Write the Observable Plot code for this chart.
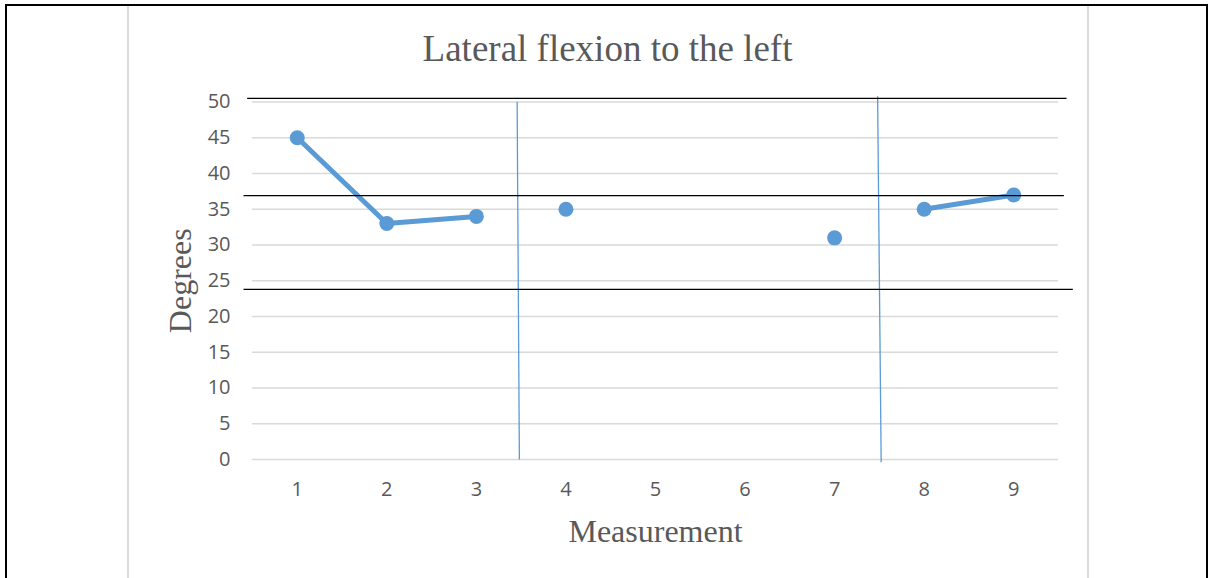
<!DOCTYPE html>
<html>
<head>
<meta charset="utf-8">
<script src="https://cdn.jsdelivr.net/npm/d3@7"></script>
<script src="https://cdn.jsdelivr.net/npm/@observablehq/plot@0.6"></script>
<style>
  html, body { margin: 0; padding: 0; background: #fff; }
  #page { position: relative; width: 1209px; height: 578px; overflow: hidden; }
  .edge { position: absolute; background: #000; }
  .sheet { position: absolute; background: #d9d9d9; }
  #chart { position: absolute; left: 0; top: 0; }
</style>
</head>
<body>
<div id="page">
  <div class="edge" style="left:5px; top:4px; width:1203px; height:2px;"></div>
  <div class="edge" style="left:5px; top:4px; width:2px; height:574px;"></div>
  <div class="edge" style="left:1206px; top:4px; width:2px; height:574px;"></div>
  <div class="sheet" style="left:127px; top:6px; width:1.5px; height:572px;"></div>
  <div class="sheet" style="left:1087px; top:6px; width:1.5px; height:572px;"></div>
  <div id="chart"></div>
</div>
<script>
// Measurement number, recorded angle (degrees; null = no reading) and phase
const measurements = [1, 2, 3, 4, 5, 6, 7, 8, 9];
const degrees = [45, 33, 34, 35, null, null, 31, 35, 37];
const phase = ["A", "A", "A", "B", "B", "B", "B", "C", "C"];
const yTicks = [0, 5, 10, 15, 20, 25, 30, 35, 40, 45, 50];

// Reference bands (horizontal) and phase separators (vertical)
const bandLevels = [50.5, 36.9, 23.8];
const bandStart = [0.44, 0.40, 0.40];
const bandEnd = [9.59, 9.56, 9.66];
const dividerTopX = [3.455, 7.48];
const dividerBottomX = [3.48, 7.52];
const dividerTopY = [50.0, 50.8];
const dividerBottomY = [0, -0.4];

const titleText = "Lateral flexion to the left";
const xTitle = "Measurement";
const yTitle = "Degrees";

const rows = measurements.map((m, i) => ({m, v: degrees[i] ?? NaN, p: phase[i]}));
const points = rows.filter(d => !Number.isNaN(d.v));
const bands = bandLevels.map((y, i) => ({y, x1: bandStart[i], x2: bandEnd[i]}));
const dividers = dividerTopX.map((x, i) => ({
  x1: x, x2: dividerBottomX[i], y1: dividerTopY[i], y2: dividerBottomY[i]
}));

const blue = "#5b9bd5";
const textGray = "#595959";

const chart = Plot.plot({
  width: 1209,
  height: 578,
  marginLeft: 252,
  marginRight: 151,
  marginTop: 101.5,
  marginBottom: 119,
  style: {background: "transparent", overflow: "visible"},
  x: {domain: [0.5, 9.5], label: null},
  y: {domain: [0, 50], label: null},
  marks: [
    Plot.ruleY(yTicks, {stroke: "#d9d9d9", strokeWidth: 1.5, strokeOpacity: 1}),
    Plot.axisY(yTicks, {
      tickSize: 0, tickPadding: 22, label: null,
      fontSize: 20, fill: textGray, fontFamily: "Open Sans, sans-serif"
    }),
    Plot.axisX(measurements, {
      tickSize: 0, tickPadding: 22, label: null,
      fontSize: 20, fill: textGray, fontFamily: "Open Sans, sans-serif"
    }),
    Plot.line(rows, {x: "m", y: "v", z: "p", stroke: blue, strokeWidth: 5, strokeLinecap: "round"}),
    Plot.dot(points, {x: "m", y: "v", r: 7.5, fill: blue, stroke: "none"}),
    Plot.link(dividers, {x1: "x1", x2: "x2", y1: "y1", y2: "y2", stroke: blue, strokeWidth: 1.3}),
    Plot.link(bands, {x1: "x1", x2: "x2", y1: "y", y2: "y", stroke: "#000", strokeWidth: 1.3}),
    Plot.text([titleText], {
      frameAnchor: "top", dx: -48, dy: -67, text: d => d,
      fontSize: 37, fill: textGray, fontFamily: "Liberation Serif, serif"
    }),
    Plot.text([xTitle], {
      frameAnchor: "bottom", dy: 82, text: d => d,
      fontSize: 32, fill: textGray, fontFamily: "Liberation Serif, serif"
    }),
    Plot.text([yTitle], {
      frameAnchor: "left", textAnchor: "middle", dx: -72, rotate: -90, text: d => d,
      fontSize: 32, fill: textGray, fontFamily: "Liberation Serif, serif"
    })
  ]
});
document.getElementById("chart").appendChild(chart);
</script>
</body>
</html>
